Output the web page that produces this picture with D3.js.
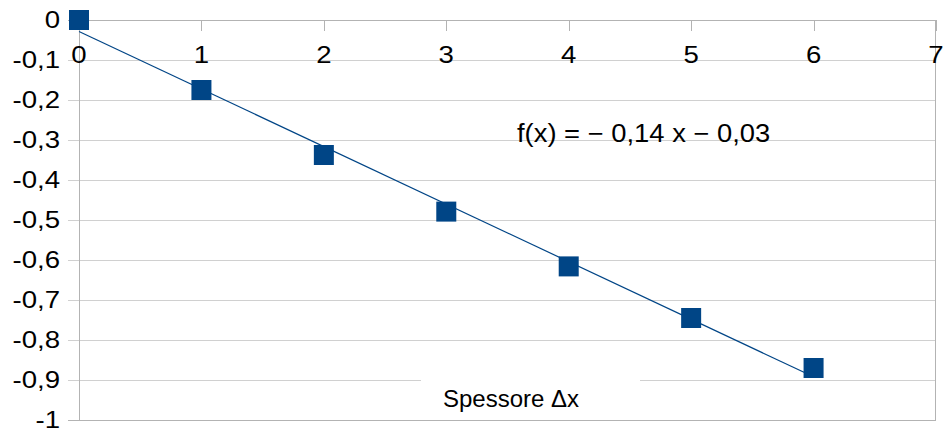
<!DOCTYPE html>
<html>
<head>
<meta charset="utf-8">
<script src="https://cdn.jsdelivr.net/npm/d3@7"></script>
<style>
  body { margin: 0; background: #fff; }
  text { font-family: "Liberation Sans", Arial, sans-serif; fill: #000; }
</style>
</head>
<body>
<script>
// spessore (x) and measured values (y)
const spessore = [0, 1, 2, 3, 4, 5, 6];
const valori = [0, -0.175, -0.3375, -0.479, -0.616, -0.745, -0.87];
const xTicks = [0, 1, 2, 3, 4, 5, 6, 7];
const yTicks = [0, -0.1, -0.2, -0.3, -0.4, -0.5, -0.6, -0.7, -0.8, -0.9, -1];
const xTitle = "Spessore Δx";

const W = 943, H = 430;
const blue = "#004586";
const stretch = 1.15; // labels in the original look a bit wide

const it = d3.formatLocale({decimal: ",", thousands: ".", grouping: [3], currency: ["", "€"], minus: "-"});
const fmtTick = it.format(".1~f");
const fmt2 = it.format(".2f");

const x = d3.scaleLinear().domain([0, 7]).range([79, 936]);
const y = d3.scaleLinear().domain([-1, 0]).range([420, 20]);

const svg = d3.select("body").append("svg")
	.attr("width", W)
	.attr("height", H);

svg.append("rect").attr("width", W).attr("height", H).attr("fill", "#fff");

// horizontal grid lines (with the small tick stub left of the axis)
svg.append("g")
	.selectAll("line")
	.data(yTicks)
	.join("line")
		.attr("x1", 68)
		.attr("x2", x(7))
		.attr("y1", d => Math.round(y(d)) + 0.5)
		.attr("y2", d => Math.round(y(d)) + 0.5)
		.attr("stroke", d => d === 0 || d === -1 ? "#b3b3b3" : "#d0d0d0")
		.attr("stroke-width", 1);

// left axis + right border
svg.append("line")
	.attr("x1", x(0) + 0.5).attr("x2", x(0) + 0.5)
	.attr("y1", y(0)).attr("y2", y(-1) + 1)
	.attr("stroke", "#b3b3b3");
svg.append("line")
	.attr("x1", x(7) - 0.5).attr("x2", x(7) - 0.5)
	.attr("y1", y(0)).attr("y2", y(-1) + 1)
	.attr("stroke", "#b3b3b3");

// x ticks hanging down from the zero line
svg.append("g")
	.selectAll("line")
	.data(xTicks)
	.join("line")
		.attr("x1", d => Math.round(x(d)) + 0.5)
		.attr("x2", d => Math.round(x(d)) + 0.5)
		.attr("y1", y(0))
		.attr("y2", y(0) + 11)
		.attr("stroke", "#b3b3b3");

// y labels
svg.append("g")
	.selectAll("text")
	.data(yTicks)
	.join("text")
		.attr("transform", d => `translate(60,${y(d)}) scale(${stretch},1)`)
		.attr("dy", "0.35em")
		.attr("text-anchor", "end")
		.style("font-size", "24px")
		.text(d => fmtTick(d));

// x labels
svg.append("g")
	.selectAll("text")
	.data(xTicks)
	.join("text")
		.attr("transform", d => `translate(${x(d)},63) scale(${stretch},1)`)
		.attr("text-anchor", "middle")
		.style("font-size", "24px")
		.text(d => fmtTick(d));

// axis title with white box over the grid
const tg = svg.append("g");
tg.append("rect")
	.attr("x", 421).attr("y", 372)
	.attr("width", 219).attr("height", 44)
	.attr("fill", "#fff");
tg.append("text")
	.attr("x", 443)
	.attr("y", 407)
	.style("font-size", "24px")
	.text(xTitle);

// linear regression trend line
const mx = d3.mean(spessore), my = d3.mean(valori);
const slope = d3.sum(spessore, (d, i) => (d - mx) * (valori[i] - my)) / d3.sum(spessore, d => (d - mx) ** 2);
const icpt = my - slope * mx;
const ext = d3.extent(spessore);

svg.append("path")
	.datum(ext)
	.attr("fill", "none")
	.attr("stroke", blue)
	.attr("stroke-width", 1.2)
	.attr("d", d3.line().x(d => x(d)).y(d => y(slope * d + icpt)));

// markers
svg.append("g")
	.selectAll("rect")
	.data(spessore)
	.join("rect")
		.attr("x", d => x(d) - 10)
		.attr("y", (d, i) => y(valori[i]) - 10)
		.attr("width", 20)
		.attr("height", 20)
		.attr("fill", blue);

// equation label
const sgn = v => v < 0 ? "− " : "+ ";
svg.append("text")
	.attr("transform", "translate(517,142) scale(1.095,1)")
	.style("font-size", "25px")
	.text("f(x) = " + sgn(slope) + fmt2(Math.abs(slope)) + " x " + sgn(icpt) + fmt2(Math.abs(icpt)));
</script>
</body>
</html>
